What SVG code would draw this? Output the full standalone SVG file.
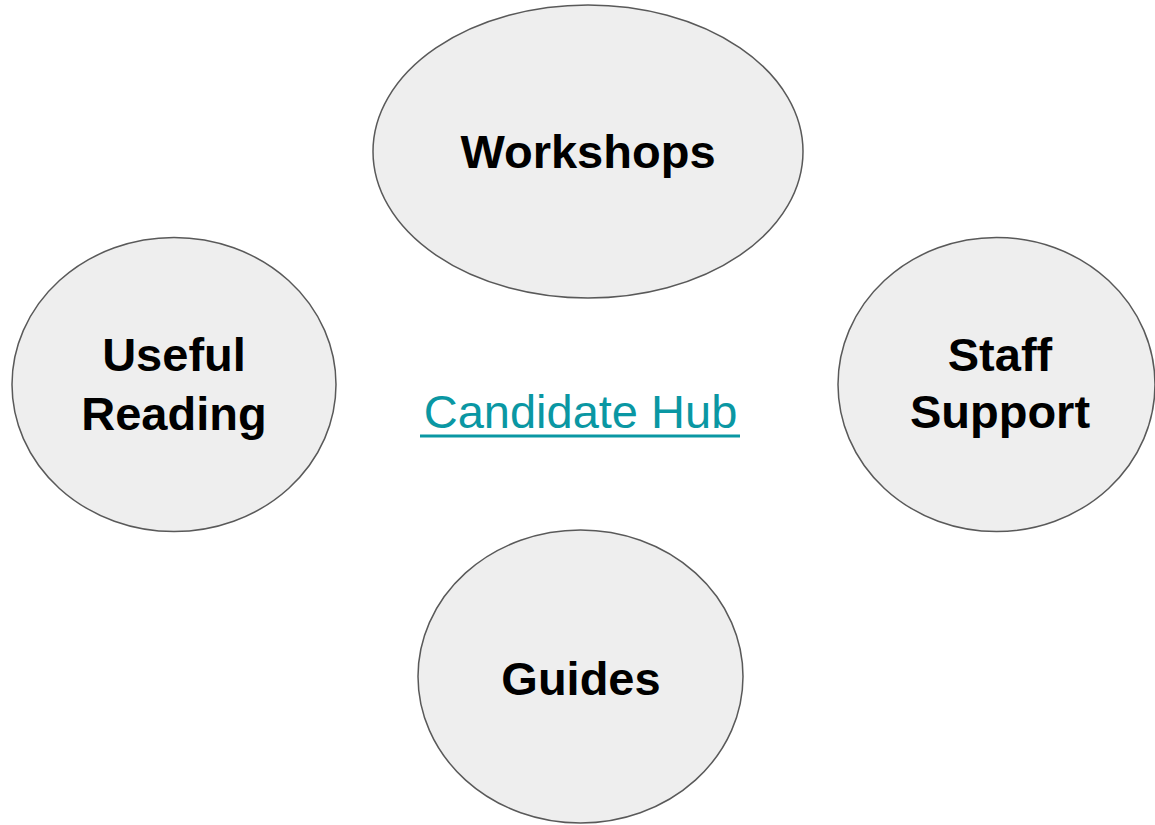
<svg xmlns="http://www.w3.org/2000/svg" width="1155" height="825" viewBox="0 0 1155 825">
<style>
.node{fill:#eeeeee;stroke:#595959;stroke-width:1.5}
.lbl{font-family:"Liberation Sans",Arial,sans-serif;font-weight:bold;font-size:47px;fill:#000;text-anchor:middle}
.hub{font-family:"Liberation Sans",Arial,sans-serif;font-size:47px;fill:#0a97a3;text-anchor:middle}
</style>
<rect width="1155" height="825" fill="#ffffff"/>
<g id="connectors"></g>
<g id="workshops">
<ellipse class="node" cx="588" cy="151.5" rx="215" ry="146.5"/>
<text class="lbl" x="588" y="168">Workshops</text>
</g>
<g id="useful-reading">
<ellipse class="node" cx="174" cy="384.5" rx="162" ry="147"/>
<text class="lbl" x="174" y="371">Useful</text>
<text class="lbl" x="174" y="430">Reading</text>
</g>
<g id="staff-support">
<ellipse class="node" cx="996.5" cy="384.5" rx="158.5" ry="147"/>
<text class="lbl" x="1000" y="371">Staff</text>
<text class="lbl" x="1000" y="428">Support</text>
</g>
<g id="guides">
<ellipse class="node" cx="580.5" cy="676.5" rx="162.5" ry="146.5"/>
<text class="lbl" x="581" y="695">Guides</text>
</g>
<g id="candidate-hub">
<text class="hub" x="580.5" y="428">Candidate Hub</text>
<rect x="420" y="434.5" width="320" height="3" fill="#0a97a3"/>
</g>
</svg>
